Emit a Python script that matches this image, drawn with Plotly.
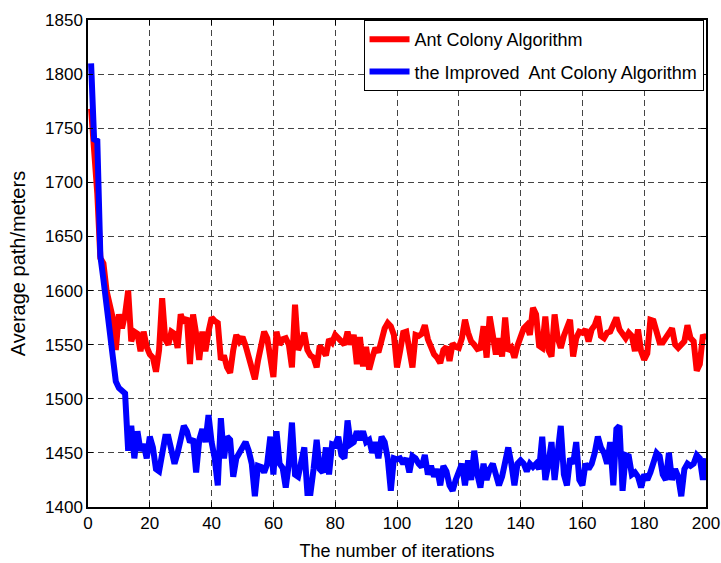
import plotly.graph_objects as go

iterations = list(range(1, 201))

aca_values = [
    1768, 1730, 1690, 1630, 1625, 1600, 1588, 1575, 1545, 1578,
    1565, 1578, 1600, 1553, 1562, 1560, 1544, 1562, 1548, 1541,
    1538, 1525, 1545, 1593, 1555, 1550, 1562, 1560, 1547, 1578,
    1570, 1575, 1532, 1578, 1560, 1536, 1562, 1544, 1562, 1575,
    1572, 1570, 1536, 1540, 1529, 1524, 1545, 1559, 1553, 1557,
    1549, 1538, 1530, 1518, 1535, 1550, 1562, 1556, 1535, 1520,
    1562, 1550, 1555, 1556, 1550, 1529, 1587, 1545, 1552, 1561,
    1545, 1540, 1538, 1529, 1549, 1545, 1540, 1555, 1552, 1559,
    1556, 1552, 1550, 1562, 1550, 1559, 1532, 1557, 1530, 1548,
    1527, 1538, 1547, 1543, 1556, 1565, 1570, 1567, 1559, 1529,
    1544, 1561, 1562, 1541, 1529, 1559, 1558, 1560, 1568, 1555,
    1548, 1541, 1538, 1533, 1545, 1548, 1535, 1551, 1548, 1547,
    1556, 1573, 1561, 1553, 1550, 1546, 1547, 1567, 1538, 1576,
    1559, 1541, 1556, 1539, 1575, 1544, 1547, 1538, 1549, 1559,
    1565, 1568, 1559, 1584, 1578, 1549, 1547, 1576, 1545, 1539,
    1578, 1556, 1547, 1558, 1565, 1573, 1539, 1556, 1562, 1561,
    1564, 1553, 1564, 1568, 1576, 1558, 1556, 1561, 1562, 1570,
    1575, 1564, 1560, 1556, 1561, 1558, 1544, 1564, 1544, 1536,
    1542, 1573, 1572, 1560, 1552, 1552, 1556, 1560, 1565, 1550,
    1547, 1550, 1553, 1568, 1556, 1553, 1526, 1532, 1559, 1555,
]

improved_values = [
    1810, 1738, 1740, 1632, 1610, 1584, 1568, 1532, 1516, 1510,
    1507, 1505, 1452, 1475, 1445, 1470, 1452, 1458, 1445, 1465,
    1455, 1435, 1433, 1450, 1465, 1465, 1450, 1440, 1450, 1465,
    1475, 1470, 1460, 1463, 1432, 1462, 1472, 1460, 1485, 1460,
    1445, 1420, 1482, 1445, 1465, 1462, 1428, 1445, 1450, 1455,
    1460, 1452, 1440, 1410, 1438, 1437, 1432, 1440, 1465, 1430,
    1470, 1440, 1436, 1418, 1440, 1478, 1430, 1428, 1440, 1455,
    1413, 1413, 1435, 1462, 1435, 1432, 1455, 1430, 1458, 1457,
    1465, 1448, 1445, 1480, 1458, 1460, 1470, 1462, 1470, 1460,
    1462, 1450, 1460, 1445, 1465, 1460, 1445, 1415, 1445, 1444,
    1445, 1440, 1445, 1432, 1447, 1445, 1440, 1437, 1448, 1430,
    1438, 1428, 1435, 1420, 1438, 1433, 1420, 1415, 1425, 1433,
    1440, 1420, 1443, 1425, 1452, 1430, 1418, 1440, 1425, 1435,
    1440, 1430, 1420, 1428, 1440, 1455, 1440, 1420, 1440, 1443,
    1440, 1433, 1440, 1437, 1440, 1435, 1465, 1425, 1440, 1460,
    1425, 1450, 1475, 1430, 1420, 1445, 1440, 1460, 1425, 1420,
    1440, 1435, 1440, 1450, 1465, 1455, 1450, 1440, 1460, 1420,
    1472, 1475, 1415, 1448, 1447, 1430, 1432, 1428, 1418, 1430,
    1425, 1432, 1440, 1450, 1447, 1430, 1425, 1450, 1425, 1435,
    1428, 1410, 1435, 1440, 1438, 1440, 1448, 1445, 1425, 1445,
]

x_ticks = [0, 20, 40, 60, 80, 100, 120, 140, 160, 180, 200]
y_ticks = [1400, 1450, 1500, 1550, 1600, 1650, 1700, 1750, 1800, 1850]

FONT = "Liberation Sans, Arial, sans-serif"

fig = go.Figure()
fig.add_trace(go.Scatter(
    x=iterations, y=aca_values, mode="lines",
    name="Ant Colony Algorithm", legendgroup="a",
    line=dict(color="#ff0000", width=6),
))
fig.add_trace(go.Scatter(
    x=iterations, y=improved_values, mode="lines",
    name="the Improved&nbsp; Ant Colony Algorithm", legendgroup="b",
    line=dict(color="#0000ff", width=6),
))

axis_common = dict(
    showline=True, linecolor="black", linewidth=1.5, mirror="ticks",
    ticks="inside", ticklen=5, tickcolor="black", tickwidth=1,
    showgrid=True, gridcolor="#444444", gridwidth=1, griddash="6px,4px",
    zeroline=False, automargin=False,
    tickfont=dict(family=FONT, size=17, color="black"),
)

fig.update_xaxes(
    range=[0, 200], tickvals=x_ticks,
    title=dict(text="The number of iterations",
               font=dict(family=FONT, size=18, color="black"), standoff=12),
    **axis_common,
)
fig.update_yaxes(
    range=[1400, 1850], tickvals=y_ticks,
    title=dict(text="Average path/meters",
               font=dict(family=FONT, size=20, color="black"), standoff=14),
    **axis_common,
)

fig.update_layout(
    width=721, height=563,
    margin=dict(l=88, r=15, t=20, b=56),
    paper_bgcolor="white", plot_bgcolor="white",
    font=dict(family=FONT, color="black"),
    legend=dict(
        x=0.996, y=1, xanchor="right", yanchor="top",
        bgcolor="white", bordercolor="black", borderwidth=1,
        font=dict(family=FONT, size=18, color="black"),
        tracegroupgap=6, itemwidth=40,
    ),
    showlegend=True,
)

fig.write_html("out.html")
